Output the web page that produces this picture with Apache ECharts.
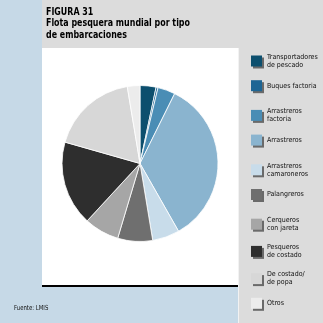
<!DOCTYPE html>
<html>
<head>
<meta charset="utf-8">
<script src="https://cdn.jsdelivr.net/npm/echarts@6/dist/echarts.min.js"></script>
<style>
  html, body { margin: 0; padding: 0; background: #dcdcdc; }
  #chart { width: 323px; height: 323px; }
</style>
</head>
<body>
<div id="chart"></div>
<script>
// tipos de embarcaciones (orden de la leyenda)
var categories = [
    'Transportadores\nde pescado',
    'Buques factoria',
    'Arrastreros\nfactoria',
    'Arrastreros',
    'Arrastreros\ncamaroneros',
    'Palangreros',
    'Cerqueros\ncon jareta',
    'Pesqueros\nde costado',
    'De costado/\nde popa',
    'Otros'
];
// porcentaje aproximado de la flota
var shares = [3.3, 0.4, 3.6, 34.3, 5.6, 7.2, 7.2, 17.5, 17.9, 2.6];
var colors = ['#0c4f6e', '#1d6594', '#4a8db5', '#8ab4cf', '#c8dcea',
              '#6f6f6f', '#a6a6a6', '#2e2e2e', '#d7d7d7', '#ececec'];

var font = '"Liberation Sans Narrow", "DejaVu Sans Condensed", sans-serif';

var chart = echarts.init(document.getElementById('chart'));

// one legend block per item so the spacing stays even
var legends = categories.map(function (name, i) {
    return {
        orient: 'vertical',
        left: 251,
        top: 53 + i * 27.2,
        padding: 0,
        data: [name],
        selectedMode: false,
        itemWidth: 11,
        itemHeight: 11,
        itemGap: 0,
        icon: 'rect',
        itemStyle: {
            borderWidth: 0,
            shadowColor: '#6a6a6a',
            shadowOffsetX: 2,
            shadowOffsetY: 2
        },
        textStyle: {
            fontFamily: font,
            fontSize: 7,
            lineHeight: 8,
            color: '#111'
        }
    };
});

var option = {
    backgroundColor: '#dcdcdc',
    animation: false,
    color: colors,
    graphic: [
        // franja azul izquierda
        { type: 'rect', shape: { x: 0, y: 0, width: 42, height: 323 }, style: { fill: '#c6d9e7' }, z: -10 },
        // franja azul inferior
        { type: 'rect', shape: { x: 0, y: 287, width: 238, height: 36 }, style: { fill: '#c6d9e7' }, z: -10 },
        // panel blanco
        { type: 'rect', shape: { x: 42, y: 48, width: 196, height: 237 }, style: { fill: '#ffffff' }, z: -10 },
        // linea negra inferior
        { type: 'rect', shape: { x: 42, y: 285, width: 196, height: 2 }, style: { fill: '#000' }, z: -9 },
        // linea blanca de la columna derecha
        { type: 'rect', shape: { x: 238, y: 48, width: 1, height: 275 }, style: { fill: '#f2f2f2' }, z: -9 },
        {
            type: 'text', x: 46, y: 6, scaleX: 0.8,
            style: {
                text: 'FIGURA 31\nFlota pesquera mundial por tipo\nde embarcaciones',
                font: 'bold 11px ' + font,
                lineHeight: 11.5,
                fill: '#000'
            }
        },
        {
            type: 'text', x: 14, y: 305, scaleX: 0.85,
            style: { text: 'Fuente: LMIS', font: '7px ' + font, fill: '#111' }
        }
    ],
    legend: legends,
    series: [
        {
            name: 'Flota',
            type: 'pie',
            center: [140, 163.5],
            radius: 78,
            startAngle: 90,
            clockwise: true,
            label: { show: false },
            labelLine: { show: false },
            emphasis: { disabled: true },
            itemStyle: { borderColor: '#ffffff', borderWidth: 0.8 },
            data: categories.map(function (c, i) {
                return { name: c, value: shares[i] };
            })
        }
    ]
};

chart.setOption(option);
</script>
</body>
</html>
